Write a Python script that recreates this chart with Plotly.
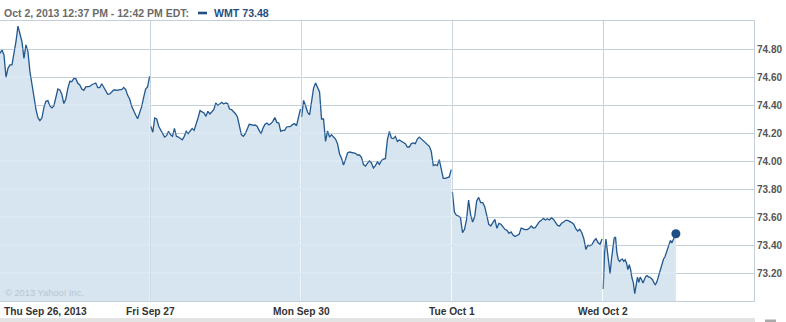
import numpy as np
import plotly.graph_objects as go

# ---------------- data ----------------
day_labels = ["Thu Sep 26, 2013", "Fri Sep 27", "Mon Sep 30", "Tue Oct 1", "Wed Oct 2"]
# minutes after the 9:30 open of the last quote shown for each session
day_end_minute = [385, 385, 385, 385, 187]
DAY_SLOT = 388  # minutes of one session slot on the x axis

wmt_sep26 = [74.769, 74.793, 74.757, 74.598, 74.662, 74.686, 74.686, 74.757, 74.852, 74.964,
             74.900, 74.852, 74.733, 74.829, 74.781, 74.638, 74.550, 74.455, 74.371, 74.310,
             74.288, 74.307, 74.381, 74.426, 74.431, 74.393, 74.379, 74.393, 74.445, 74.514,
             74.507, 74.476, 74.410, 74.443, 74.519, 74.569, 74.567, 74.590, 74.588, 74.555,
             74.543, 74.514, 74.505, 74.529, 74.531, 74.533, 74.545, 74.552, 74.557, 74.524,
             74.524, 74.552, 74.526, 74.495, 74.476, 74.479, 74.490, 74.507, 74.507, 74.505,
             74.510, 74.510, 74.526, 74.510, 74.469, 74.443, 74.390, 74.352, 74.329, 74.302,
             74.340, 74.388, 74.455, 74.514, 74.531, 74.607]

wmt_sep27 = [74.248, 74.205, 74.307, 74.300, 74.248, 74.219, 74.188, 74.171, 74.181, 74.212,
             74.188, 74.176, 74.233, 74.176, 74.171, 74.162, 74.152, 74.176, 74.212, 74.195,
             74.219, 74.233, 74.219, 74.260, 74.307, 74.360, 74.348, 74.343, 74.319, 74.355,
             74.336, 74.355, 74.367, 74.414, 74.398, 74.407, 74.419, 74.407, 74.414, 74.410,
             74.371, 74.367, 74.355, 74.338, 74.314, 74.248, 74.188, 74.176, 74.195, 74.229,
             74.262, 74.260, 74.255, 74.257, 74.248, 74.219, 74.195, 74.236, 74.262, 74.271,
             74.257, 74.267, 74.283, 74.310, 74.276, 74.271, 74.212, 74.219, 74.219, 74.243,
             74.248, 74.248, 74.260, 74.267, 74.252, 74.307, 74.371]

wmt_sep30 = [74.314, 74.433, 74.395, 74.348, 74.329, 74.438, 74.521, 74.557, 74.519, 74.493,
             74.300, 74.300, 74.140, 74.214, 74.171, 74.188, 74.171, 74.157, 74.124, 74.052,
             74.019, 73.971, 74.010, 74.057, 74.064, 74.060, 74.055, 74.055, 74.043, 74.043,
             74.026, 73.974, 73.964, 73.986, 74.002, 73.986, 73.950, 73.967, 73.993, 73.976,
             74.002, 74.014, 74.017, 74.152, 74.212, 74.164, 74.160, 74.176, 74.140, 74.150,
             74.140, 74.133, 74.124, 74.100, 74.100, 74.124, 74.129, 74.124, 74.157, 74.171,
             74.157, 74.148, 74.133, 74.119, 74.105, 74.069, 73.967, 73.974, 73.967, 74.010,
             73.950, 73.876, 73.876, 73.879, 73.886, 73.938]

wmt_oct1 = [73.779, 73.636, 73.612, 73.607, 73.595, 73.488, 73.512, 73.583, 73.721, 73.617,
            73.564, 73.600, 73.714, 73.740, 73.702, 73.702, 73.674, 73.612, 73.548, 73.536,
            73.564, 73.583, 73.519, 73.555, 73.548, 73.531, 73.512, 73.505, 73.483, 73.493,
            73.471, 73.460, 73.469, 73.476, 73.521, 73.514, 73.510, 73.510, 73.519, 73.536,
            73.521, 73.524, 73.548, 73.567, 73.576, 73.590, 73.579, 73.588, 73.579, 73.595,
            73.583, 73.564, 73.540, 73.536, 73.555, 73.564, 73.576, 73.576, 73.569, 73.560,
            73.548, 73.517, 73.500, 73.512, 73.488, 73.445, 73.369, 73.398, 73.395, 73.402,
            73.429, 73.445, 73.417, 73.405, 73.443]

wmt_oct2 = [73.086, 73.343, 73.443, 73.343, 73.248, 73.195, 73.295, 73.390, 73.450, 73.457,
            73.343, 73.295, 73.283, 73.295, 73.300, 73.283, 73.295, 73.271, 73.224, 73.260,
            73.224, 73.164, 73.129, 73.052, 73.117, 73.171, 73.133, 73.171, 73.152, 73.129,
            73.152, 73.176, 73.181, 73.171, 73.171, 73.164, 73.152, 73.129, 73.117, 73.133,
            73.164, 73.195, 73.224, 73.271, 73.300, 73.314, 73.343, 73.379, 73.414, 73.433,
            73.414, 73.438, 73.457, 73.48]

sessions = [wmt_sep26, wmt_sep27, wmt_sep30, wmt_oct1, wmt_oct2]
y_ticks = [73.2, 73.4, 73.6, 73.8, 74.0, 74.2, 74.4, 74.6, 74.8]
header_text = "Oct 2, 2013 12:37 PM - 12:42 PM EDT:"
symbol = "WMT"

# ---------------- style ----------------
LINE = "#22588f"
FILL = "#d6e5f0"
GRID = "#b9c7d3"
BORDER = "#c3ced8"
FONT = "Liberation Sans"

fig = go.Figure()
for d, vals in enumerate(sessions):
    m = np.linspace(0, day_end_minute[d], len(vals))
    x = d + m / DAY_SLOT
    fig.add_trace(go.Scatter(x=x, y=vals, mode="lines",
                             line=dict(color=LINE, width=1.3),
                             fill="tozeroy", fillcolor=FILL,
                             hoverinfo="skip", showlegend=False))

last_x = 4 + day_end_minute[-1] / DAY_SLOT
last_y = wmt_oct2[-1]
fig.add_trace(go.Scatter(x=[last_x], y=[last_y], mode="markers",
                         marker=dict(color="#1d4f86", size=9),
                         hoverinfo="skip", showlegend=False))

shapes = []
# light overlay on grid lines so they look lighter over the filled area
for v in y_ticks:
    shapes.append(dict(type="line", xref="paper", yref="y", x0=0, x1=1, y0=v, y1=v,
                       line=dict(color="rgba(255,255,255,0.32)", width=1), layer="above"))
for d in range(1, 5):
    shapes.append(dict(type="line", xref="x", yref="paper", x0=d, x1=d, y0=0, y1=1,
                       line=dict(color="rgba(255,255,255,0.32)", width=1), layer="above"))
# legend swatch in header
shapes.append(dict(type="rect", xref="paper", yref="paper",
                   x0=198 / 754, x1=207 / 754, y0=(301 - 14.3) / 280, y1=(301 - 11.7) / 280,
                   line=dict(width=0), fillcolor="#1f4e85"))
# bottom scrollbar strip
shapes.append(dict(type="rect", xref="paper", yref="paper",
                   x0=0, x1=755 / 754, y0=(301 - 322) / 280, y1=(301 - 318) / 280,
                   line=dict(width=0), fillcolor="#e3e3e3"))
shapes.append(dict(type="rect", xref="paper", yref="paper",
                   x0=765 / 754, x1=776 / 754, y0=(301 - 322) / 280, y1=(301 - 319.5) / 280,
                   line=dict(width=0), fillcolor="#a9a9a9"))

annotations = [
    dict(text=header_text, xref="paper", yref="paper", x=0, y=1, xanchor="left",
         yanchor="middle", xshift=2, yshift=8.5, showarrow=False,
         font=dict(family=FONT, size=10.5, color="#6a6a6a", weight="bold")),
    dict(text=f"{symbol} {last_y:.2f}", xref="paper", yref="paper", x=212 / 754, y=1,
         xanchor="left", yanchor="middle", yshift=8.5, showarrow=False,
         font=dict(family=FONT, size=10.6, color="#1f4e85", weight="bold")),
    dict(text="© 2013 Yahoo! Inc.", xref="paper", yref="paper", x=0, y=0, xanchor="left",
         yanchor="middle", xshift=3, yshift=8, showarrow=False,
         font=dict(family=FONT, size=9.3, color="#b9c5cf")),
]
for d, lab in enumerate(day_labels):
    annotations.append(dict(text=lab, xref="x", yref="paper", x=d, y=0,
                            xanchor="left" if d == 0 else "center", yanchor="middle",
                            xshift=2 if d == 0 else 0, yshift=-10.5, showarrow=False,
                            font=dict(family=FONT, size=10.2, color="#333333", weight="bold")))

fig.update_layout(
    width=786, height=322,
    margin=dict(l=0, r=32, t=21, b=21),
    paper_bgcolor="white", plot_bgcolor="white",
    shapes=shapes, annotations=annotations,
    xaxis=dict(range=[0, 5], tickvals=[1, 2, 3, 4], showticklabels=False, ticks="",
               showgrid=True, gridcolor=GRID, gridwidth=1, zeroline=False,
               showline=True, mirror=True, linecolor=BORDER, linewidth=1, fixedrange=True),
    yaxis=dict(range=[73.0, 75.0], side="right", tickvals=y_ticks,
               ticktext=[f"{v:.2f}" for v in y_ticks], ticks="",
               tickfont=dict(family=FONT, size=10, color="#555555", weight="bold"),
               showgrid=True, gridcolor=GRID, gridwidth=1, zeroline=False,
               showline=True, linecolor=BORDER, linewidth=1, fixedrange=True),
    showlegend=False,
)

fig.write_html("out.html")
